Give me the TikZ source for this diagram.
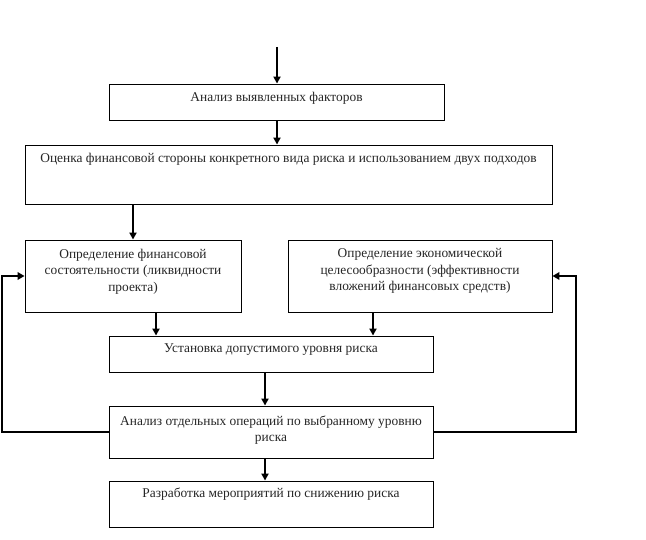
\documentclass[tikz,border=0pt]{standalone}
\usepackage{fontspec}
\setmainfont{Liberation Serif}
\usetikzlibrary{arrows.meta,calc}
\begin{document}
\begin{tikzpicture}[x=1pt,y=-1pt,
  box/.style={draw,line width=0.9pt,inner sep=0pt,minimum width=#1},
  txt/.style={anchor=north,inner sep=0pt,align=center,font=\fontsize{13.4}{16.5}\selectfont,text=black!85},
  arr/.style={line width=1.8pt,-{Triangle[length=7pt,width=7pt]}},
  fb/.style={line width=2.4pt,-{Triangle[length=7pt,width=7.5pt]}}]
\useasboundingbox (0,0) rectangle (646,540);
\fill[white] (0,0) rectangle (646,540);
\coordinate (top) at (277,47);
\coordinate (lf) at (2,0);
\coordinate (rt) at (576,0);
\node[box=335pt,minimum height=36pt] (b1) at (276.5,102) {};
\node[box=527pt,minimum height=59pt] (b2) at (288.5,174.5) {};
\node[box=216pt,minimum height=72pt] (b3) at (133,276) {};
\node[box=264pt,minimum height=72pt] (b4) at (420,276) {};
\node[box=324pt,minimum height=36pt] (b5) at (271,354) {};
\node[box=324pt,minimum height=52pt] (b6) at (271,432) {};
\node[box=324pt,minimum height=46pt] (b7) at (271,504) {};
\node[txt] (t1) at ([yshift=-8pt]b1.north) {Анализ выявленных факторов};
\node[txt] (t2) at ([yshift=-8pt]b2.north) {Оценка финансовой стороны конкретного вида риска и использованием двух подходов};
\node[txt] (t3) at ([yshift=-9pt]b3.north) {Определение финансовой\\состоятельности (ликвидности\\проекта)};
\node[txt] (t4) at ([yshift=-9pt]b4.north) {Определение экономической\\целесообразности (эффективности\\вложений финансовых средств)};
\node[txt] (t5) at ([yshift=-8pt]b5.north) {Установка допустимого уровня риска};
\node[txt] (t6) at ([yshift=-10pt]b6.north) {Анализ отдельных операций по выбранному уровню\\риска};
\node[txt] (t7) at ([yshift=-7pt]b7.north) {Разработка мероприятий по снижению риска};
\draw[arr] (top) -- (top |- b1.north);
\draw[arr] (top |- b1.south) -- (top |- b2.north);
\draw[arr] (b2.south -| b3.north) -- (b3.north);
\draw[arr] ([xshift=23pt]b3.south) -- ([xshift=23pt]b3.south |- b5.north);
\draw[arr] ([xshift=-47pt]b4.south) -- ([xshift=-47pt]b4.south |- b5.north);
\draw[arr] ([xshift=-6pt]b5.south) -- ([xshift=-6pt]b6.north);
\draw[arr] ([xshift=-6pt]b6.south) -- ([xshift=-6pt]b7.north);
\draw[fb] (b6.west) -- (b6.west -| lf) |- (b3.west);
\draw[fb] (b6.east) -- (b6.east -| rt) |- (b4.east);
\end{tikzpicture}
\end{document}
